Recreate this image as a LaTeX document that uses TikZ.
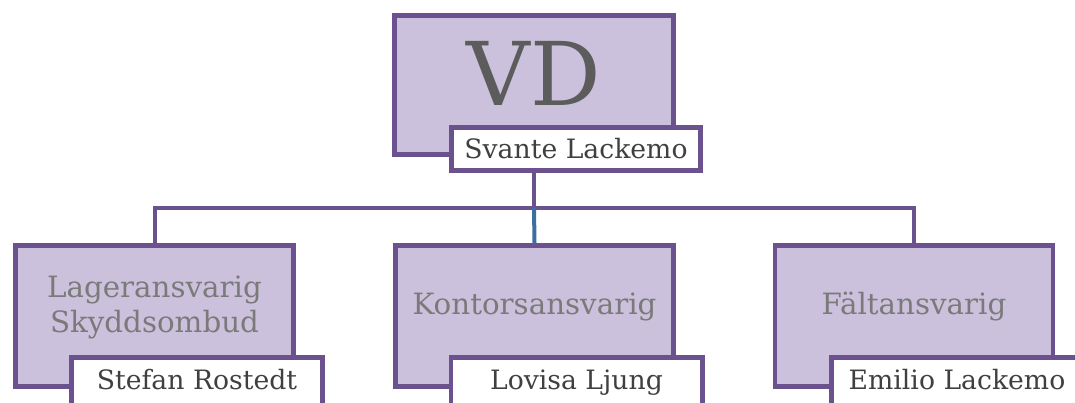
\documentclass[tikz,border=0pt]{standalone}
\usepackage{fontspec}
\setmainfont{DejaVu Serif}
\definecolor{rolefill}{RGB}{204,193,220}
\definecolor{roleline}{RGB}{107,82,143}
\definecolor{linkblue}{RGB}{62,110,160}
\definecolor{rolegray}{RGB}{122,122,122}
\definecolor{namegray}{RGB}{64,64,64}
\begin{document}
\begin{tikzpicture}[x=0.75pt, y=-0.75pt,
  rolebox/.style={draw=roleline, fill=rolefill, line width=3.5pt, minimum width=208.5pt, minimum height=106pt, inner sep=0pt},
  namebox/.style={draw=roleline, fill=white, line width=3.5pt, minimum width=188.5pt, minimum height=32.5pt, inner sep=0pt,
    font=\fontsize{20}{24}\selectfont, text=namegray, text height=14.6pt, text depth=0pt},
  lownamebox/.style={namebox, minimum height=36pt, text depth=3pt},
  roletext/.style={font=\fontsize{22}{26}\selectfont, text=rolegray, align=center, inner sep=0pt, text height=16pt, text depth=0pt},
  link/.style={draw=roleline, line width=3pt}]
  \useasboundingbox (0,0) rectangle (1075,403);
  % VD
  \node[rolebox, minimum width=209.5pt, minimum height=104.5pt] (vd) at (534,85) {};
  \node[font=\fontsize{66}{70}\selectfont, text=rolegray!75!black, inner sep=0pt, text height=48pt, text depth=0pt] (vdtext) at (534,74) {VD};
  \node[namebox, minimum width=187pt] (vdname) at (576,149) {Svante Lackemo};
  % avdelningar
  \node[rolebox] (lager) at (154.5,316) {};
  \node[roletext, text height=42pt] (lagertext) at (154.5,304) {Lageransvarig\\Skyddsombud};
  \node[lownamebox] (lagername) at (197,381.5) {Stefan Rostedt};
  \node[rolebox] (kontor) at (534.5,316) {};
  \node[roletext] (kontortext) at (534.5,303.5) {Kontorsansvarig};
  \node[lownamebox] (kontorname) at (576.5,381.5) {Lovisa Ljung};
  \node[rolebox] (falt) at (914,316) {};
  \node[roletext] (falttext) at (914,303.5) {Fältansvarig};
  \node[lownamebox] (faltname) at (957,381.5) {Emilio Lackemo};
  % linjer
  \coordinate (bus) at (534,208);
  \draw[link] (vdname.south -| bus) -- (bus);
  \draw[link] (bus) -| (lager.north);
  \draw[link] (bus) -| (falt.north);
  \draw[link, draw=linkblue] (bus) -- (kontor.north);
\end{tikzpicture}
\end{document}
